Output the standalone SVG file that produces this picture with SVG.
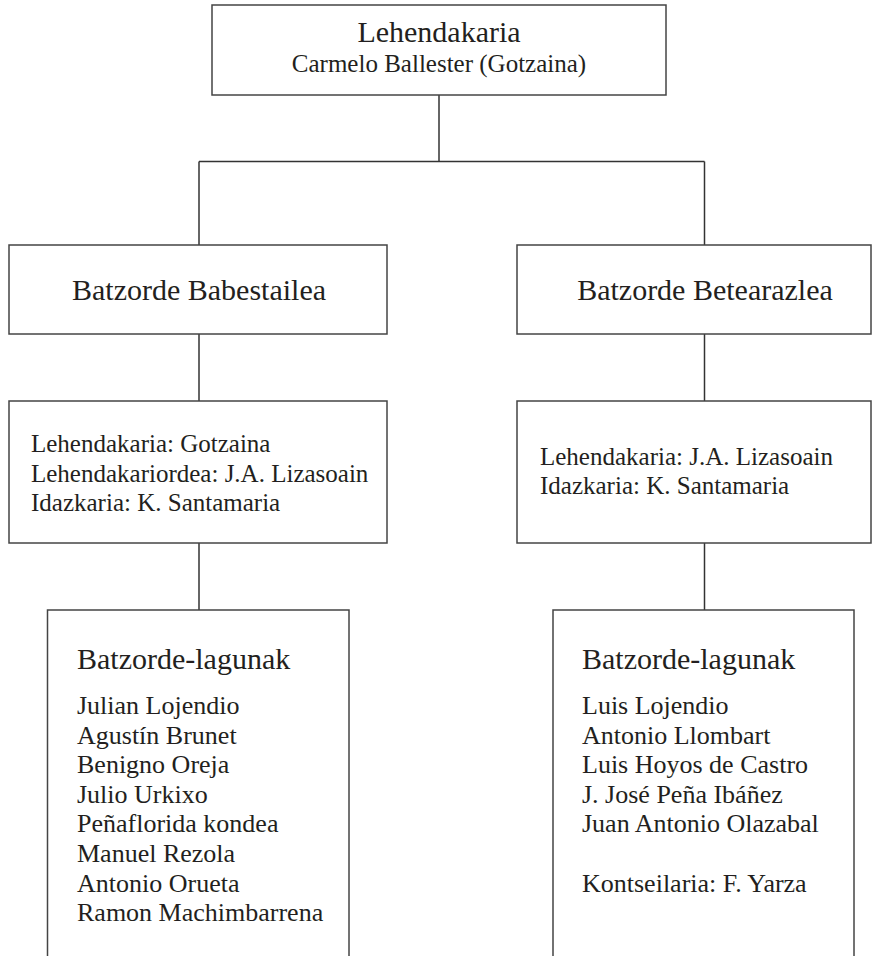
<svg xmlns="http://www.w3.org/2000/svg" width="887" height="956" viewBox="0 0 887 956">
<style>
.box{fill:#fff;stroke:#444;stroke-width:1.5}
.ln{stroke:#333;stroke-width:1.5;fill:none}
text{font-family:'Liberation Serif','Tinos','Noto Serif','DejaVu Serif','Times New Roman',serif;fill:#231f20}
.t30{font-size:30px}
.t25{font-size:25px}
.t26{font-size:26px}
.c{text-anchor:middle}
</style>
<rect width="887" height="956" fill="#fff"/>
<g id="connectors">
<line class="ln" x1="439" y1="95" x2="439" y2="161.5"/>
<line class="ln" x1="199" y1="161.5" x2="704.5" y2="161.5"/>
<line class="ln" x1="199" y1="161.5" x2="199" y2="245"/>
<line class="ln" x1="704.5" y1="161.5" x2="704.5" y2="245"/>
<line class="ln" x1="199" y1="334" x2="199" y2="401"/>
<line class="ln" x1="704.5" y1="334" x2="704.5" y2="401"/>
<line class="ln" x1="199" y1="543" x2="199" y2="610"/>
<line class="ln" x1="704.5" y1="543" x2="704.5" y2="610"/>
</g>
<g id="lehendakaria">
<rect class="box" x="212" y="5" width="454" height="90"/>
<text class="t30 c" x="439" y="42">Lehendakaria</text>
<text class="t25 c" x="439" y="72">Carmelo Ballester (Gotzaina)</text>
</g>
<g id="babestailea">
<rect class="box" x="9" y="245" width="378" height="89"/>
<text class="t30 c" x="199" y="300">Batzorde Babestailea</text>
</g>
<g id="betearazlea">
<rect class="box" x="517" y="245" width="354" height="89"/>
<text class="t30 c" x="705" y="300">Batzorde Betearazlea</text>
</g>
<g id="babestailea-kargudunak">
<rect class="box" x="9" y="401" width="378" height="142"/>
<text class="t25" x="31" y="452">Lehendakaria: Gotzaina</text>
<text class="t25" x="31" y="482">Lehendakariordea: J.A. Lizasoain</text>
<text class="t25" x="31" y="511">Idazkaria: K. Santamaria</text>
</g>
<g id="betearazlea-kargudunak">
<rect class="box" x="517" y="401" width="354" height="142"/>
<text class="t25" x="540" y="465">Lehendakaria: J.A. Lizasoain</text>
<text class="t25" x="540" y="494">Idazkaria: K. Santamaria</text>
</g>
<g id="babestailea-lagunak">
<rect class="box" x="47.5" y="610" width="301.5" height="360"/>
<text class="t30" x="77" y="669">Batzorde-lagunak</text>
<text class="t26" x="77" y="714">Julian Lojendio</text>
<text class="t26" x="77" y="743.6">Agustín Brunet</text>
<text class="t26" x="77" y="773.2">Benigno Oreja</text>
<text class="t26" x="77" y="802.8">Julio Urkixo</text>
<text class="t26" x="77" y="832.4">Peñaflorida kondea</text>
<text class="t26" x="77" y="862">Manuel Rezola</text>
<text class="t26" x="77" y="891.6">Antonio Orueta</text>
<text class="t26" x="77" y="921.2">Ramon Machimbarrena</text>
</g>
<g id="betearazlea-lagunak">
<rect class="box" x="553" y="610" width="301" height="360"/>
<text class="t30" x="582" y="669">Batzorde-lagunak</text>
<text class="t26" x="582" y="714">Luis Lojendio</text>
<text class="t26" x="582" y="743.6">Antonio Llombart</text>
<text class="t26" x="582" y="773.2">Luis Hoyos de Castro</text>
<text class="t26" x="582" y="802.8">J. José Peña Ibáñez</text>
<text class="t26" x="582" y="832.4">Juan Antonio Olazabal</text>
<text class="t26" x="582" y="891.6">Kontseilaria: F. Yarza</text>
</g>
</svg>
